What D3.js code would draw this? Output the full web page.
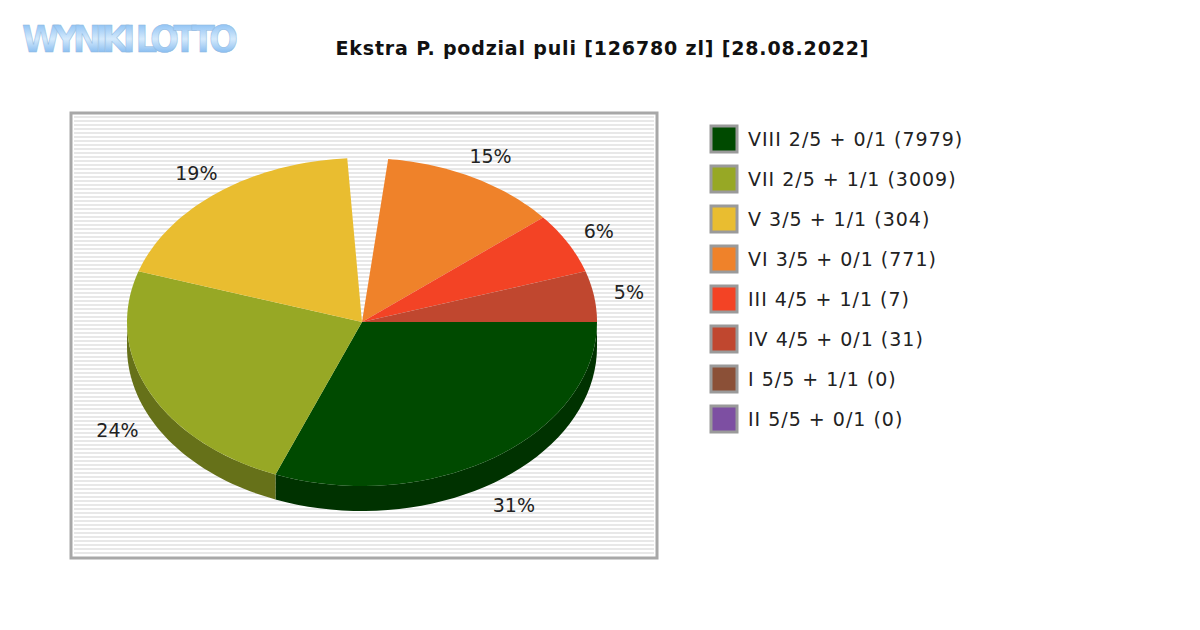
<!DOCTYPE html><html><head><meta charset="utf-8"><script src="https://cdn.jsdelivr.net/npm/d3@7"></script>
<style>body{margin:0;background:#fff}</style></head><body><svg id="c" width="1200" height="630"></svg>
<script>
const categories=["VIII 2/5 + 0/1 (7979)","VII 2/5 + 1/1 (3009)","V 3/5 + 1/1 (304)","VI 3/5 + 0/1 (771)","III 4/5 + 1/1 (7)","IV 4/5 + 0/1 (31)","I 5/5 + 1/1 (0)","II 5/5 + 0/1 (0)"];
const values=[31,24,19,15,6,5,0,0];
const colors=["#004a00","#97a825","#e9bd30","#ef822a","#f34325","#c0472f","#8b5037","#7d4fa2"];
const gapIndex=3, gapDeg=10;
const svg=d3.select("#c");
const g0=svg.append("defs").append("linearGradient").attr("id","lg").attr("x1",0).attr("x2",0).attr("y1",0).attr("y2",1);
g0.append("stop").attr("offset","0").attr("stop-color","#6fb0f0");g0.append("stop").attr("offset","0.5").attr("stop-color","#d5eafc");g0.append("stop").attr("offset","1").attr("stop-color","#5aa2ea");
svg.append("text").attr("x",22).attr("y",52).attr("font-family","DejaVu Sans Condensed, DejaVu Sans").attr("font-weight","bold").attr("font-size",38).attr("textLength",216).attr("lengthAdjust","spacing").attr("fill","url(#lg)").attr("stroke","#8fb8e0").attr("stroke-width",0.5).text("WYNIKI LOTTO");
svg.append("text").attr("x",602).attr("y",55).attr("text-anchor","middle").attr("font-family","DejaVu Sans").attr("font-weight","bold").attr("font-size",19).attr("textLength",533).attr("fill","#111").text("Ekstra P. podzial puli [126780 zl] [28.08.2022]");
const box=svg.append("g");
box.append("rect").attr("x",71).attr("y",113).attr("width",586).attr("height",445).attr("fill","#fff").attr("stroke","#a8a8a8").attr("stroke-width",3);
box.selectAll("line.s").data(d3.range(117,556,4)).join("line").attr("x1",74).attr("x2",654).attr("y1",d=>d).attr("y2",d=>d).attr("stroke","#e8e8e8").attr("stroke-width",2);
const cx=362,cy=322,rx=235,ry=164,depth=25;
const pie=d3.pie().sort(null).value(d=>d.v).startAngle(0).endAngle(2*Math.PI);
const arcs=pie(values.map((v,i)=>({v,i}))).map(a=>{let s=a.startAngle,e=a.endAngle;if(a.data.i===gapIndex)s+=gapDeg*Math.PI/180;return {i:a.data.i,s,e,v:a.data.v};}).filter(a=>a.v>0);
const P=(t,dy=0)=>[cx+rx*Math.cos(t),cy+ry*Math.sin(t)+dy];
const samp=(s,e)=>d3.range(0,41).map(k=>s+(e-s)*k/40);
const dark=c=>d3.color(c).darker(1.1);
const pg=svg.append("g");
arcs.forEach(a=>{const s=Math.max(a.s,0),e=Math.min(a.e,Math.PI);if(e<=s)return;
 const top=samp(s,e).map(t=>P(t)),bot=samp(e,s).map(t=>P(t,depth));
 pg.append("path").attr("d",d3.line()(top.concat(bot))+"Z").attr("fill",dark(colors[a.i]));});
arcs.forEach(a=>{const pts=[[cx,cy]].concat(samp(a.s,a.e).map(t=>P(t)));
 pg.append("path").attr("d",d3.line()(pts)+"Z").attr("fill",colors[a.i]);});
arcs.forEach(a=>{const m=(a.s+a.e)/2;const x=cx+rx*1.15*Math.cos(m),y=cy+ry*1.15*Math.sin(m)+(Math.sin(m)>0?depth*1.1:0)+7;
 svg.append("text").attr("x",x).attr("y",y).attr("text-anchor","middle").attr("font-family","DejaVu Sans").attr("font-size",19).attr("fill","#222").text(a.v+"%");});
const lg=svg.append("g").selectAll("g").data(categories).join("g").attr("transform",(d,i)=>`translate(710,${125+i*40})`);
lg.append("rect").attr("x",1).attr("y",1).attr("width",26).attr("height",26).attr("fill",(d,i)=>colors[i]).attr("stroke","#9a9a9a").attr("stroke-width",3);
lg.append("text").attr("x",38).attr("y",21).attr("font-family","DejaVu Sans").attr("font-size",19).attr("letter-spacing",1).attr("fill","#222").text(d=>d);
</script></body></html>
